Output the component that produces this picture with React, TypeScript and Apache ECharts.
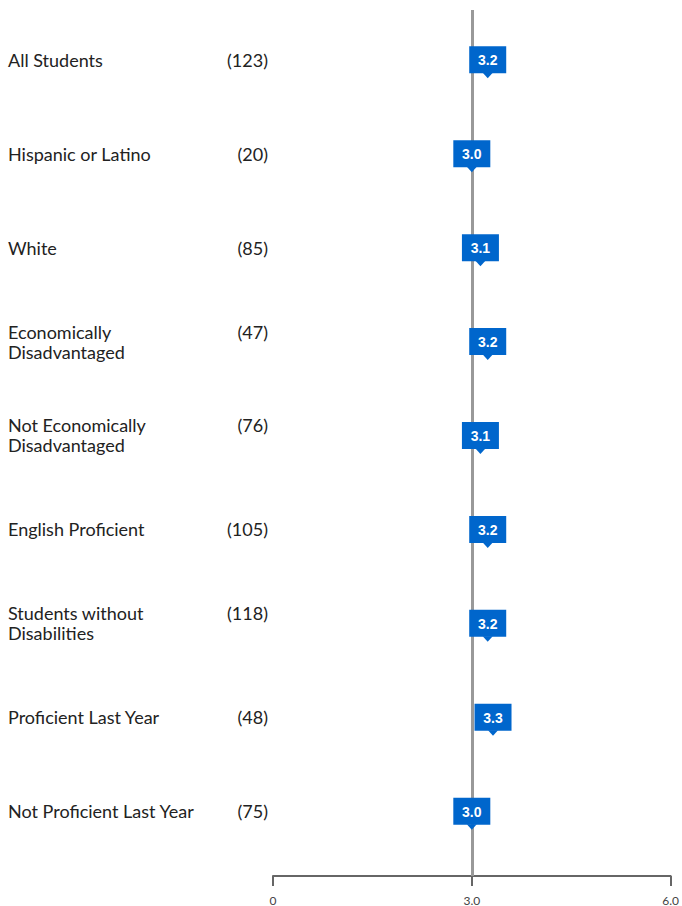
import React, { useEffect, useRef } from "react";
import * as echarts from "echarts";

const groups = [
  "All Students",
  "Hispanic or Latino",
  "White",
  "Economically\nDisadvantaged",
  "Not Economically\nDisadvantaged",
  "English Proficient",
  "Students without\nDisabilities",
  "Proficient Last Year",
  "Not Proficient Last Year",
];
const counts = [123, 20, 85, 47, 76, 105, 118, 48, 75];
const scores = [3.24, 3.0, 3.13, 3.24, 3.13, 3.24, 3.24, 3.32, 3.0];
const xTicks = [0, 3, 6];
const referenceValue = 3.0;

const MARK_BLUE = "#0066cc";

export default function App() {
  const ref = useRef<HTMLDivElement>(null);

  useEffect(() => {
    if (!ref.current) return;
    document.body.style.margin = "0";
    const chart = echarts.init(ref.current, null, { renderer: "svg" });

    const labelData = groups.map((g, i) => [0, i, g, counts[i]]);
    const markData = scores.map((s, i) => [s, i]);

    chart.setOption({
      animation: false,
      grid: { left: 273, right: 9, top: 10, bottom: 27, containLabel: false },
      xAxis: {
        type: "value",
        min: xTicks[0],
        max: xTicks[xTicks.length - 1],
        interval: 3,
        splitLine: { show: false },
        axisLine: { show: true, onZero: false, lineStyle: { color: "#666", width: 2 } },
        axisTick: { show: true, length: 10, lineStyle: { color: "#666", width: 2 } },
        axisLabel: {
          margin: 18,
          fontFamily: "Lato",
          fontSize: 12,
          color: "#444",
          formatter: (v: number) => (v === 0 ? "0" : v.toFixed(1)),
        },
      },
      yAxis: {
        type: "value",
        inverse: true,
        min: -0.53,
        max: 8.69,
        show: false,
        splitLine: { show: false },
      },
      series: [
        {
          type: "custom",
          silent: true,
          data: labelData,
          z: 1,
          renderItem: (params: any, api: any) => {
            const i = api.value(1);
            const p = api.coord([0, i]);
            const name = groups[i];
            const lines = name.split("\n").length;
            return {
              type: "group",
              children: [
                {
                  type: "text",
                  x: 8,
                  y: p[1],
                  style: {
                    text: name,
                    fontFamily: "Lato",
                    fontSize: 18,
                    lineHeight: 20,
                    fill: "#222",
                    align: "left",
                    verticalAlign: "middle",
                  },
                },
                {
                  type: "text",
                  x: p[0] - 5,
                  y: p[1] - (lines - 1) * 10,
                  style: {
                    text: "(" + counts[i] + ")",
                    fontFamily: "Lato",
                    fontSize: 18,
                    lineHeight: 20,
                    fill: "#222",
                    align: "right",
                    verticalAlign: "middle",
                  },
                },
              ],
            };
          },
        },
        {
          type: "custom",
          data: markData,
          z: 5,
          markLine: {
            silent: true,
            symbol: "none",
            label: { show: false },
            lineStyle: { color: "#999", width: 3, type: "solid" },
            data: [{ xAxis: referenceValue }],
          },
          renderItem: (params: any, api: any) => {
            const v = api.value(0);
            const i = api.value(1);
            const p = api.coord([v, i]);
            const w = 37;
            const h = 27;
            return {
              type: "group",
              children: [
                {
                  type: "rect",
                  shape: { x: p[0] - w / 2, y: p[1] - h / 2, width: w, height: h },
                  style: { fill: MARK_BLUE },
                },
                {
                  type: "polygon",
                  shape: {
                    points: [
                      [p[0] - 5, p[1] + h / 2 - 0.5],
                      [p[0] + 5, p[1] + h / 2 - 0.5],
                      [p[0], p[1] + h / 2 + 5],
                    ],
                  },
                  style: { fill: MARK_BLUE },
                },
                {
                  type: "text",
                  x: p[0],
                  y: p[1] + 0.5,
                  style: {
                    text: v.toFixed(1),
                    fontFamily: "Liberation Sans, Arial, sans-serif",
                    fontWeight: "bold",
                    fontSize: 14,
                    fill: "#fff",
                    align: "center",
                    verticalAlign: "middle",
                  },
                },
              ],
            };
          },
        },
      ],
    });

    return () => chart.dispose();
  }, []);

  return <div ref={ref} style={{ width: 682, height: 906 }} />;
}
